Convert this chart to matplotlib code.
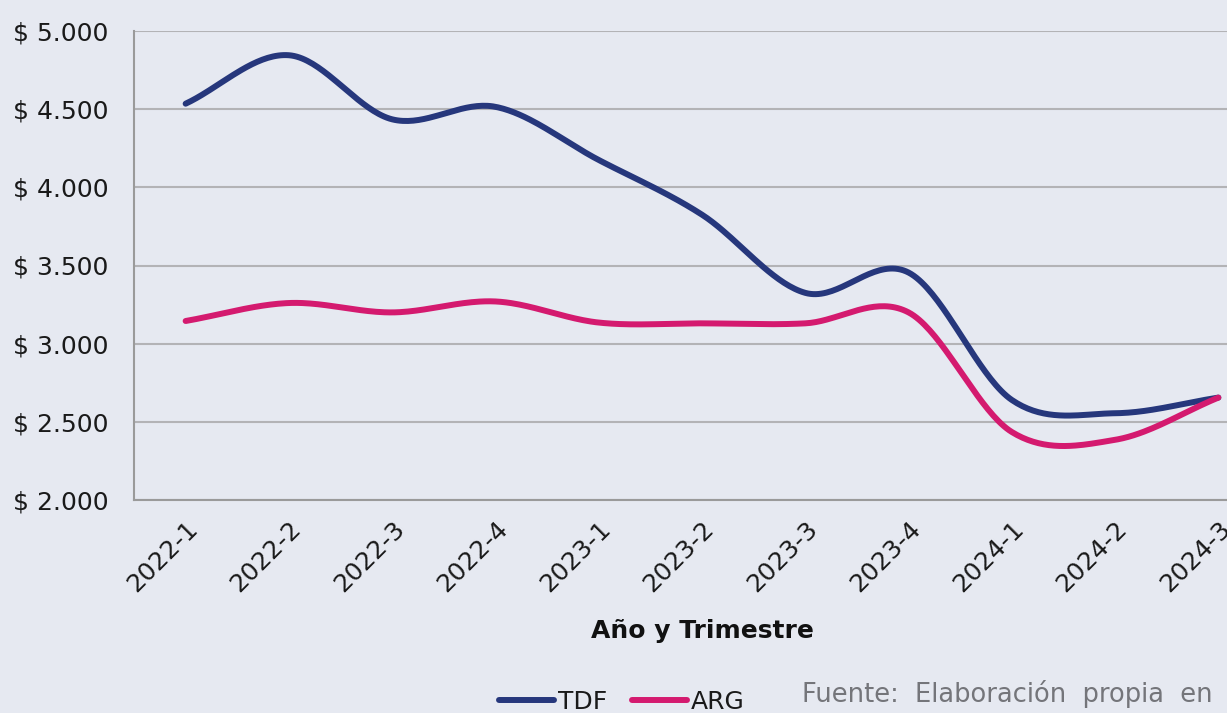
import numpy as np
import matplotlib.pyplot as plt
from matplotlib.lines import Line2D

# --- Data ---
periodos = ['2022-1', '2022-2', '2022-3', '2022-4', '2023-1', '2023-2',
            '2023-3', '2023-4', '2024-1', '2024-2', '2024-3']
tdf = [4535, 4845, 4435, 4515, 4175, 3825, 3325, 3455, 2640, 2555, 2655]
arg = [3145, 3260, 3200, 3270, 3135, 3130, 3130, 3200, 2435, 2385, 2655]

BG = '#e6e9f1'
C_TDF = '#26377c'
C_ARG = '#d41a6f'
TXT = '#1a1a1a'


def smooth(y, n=40):
    """Catmull-Rom curve through the points, like Excel's smoothed line."""
    x = np.arange(len(y), dtype=float)
    y = np.asarray(y, dtype=float)
    px = np.concatenate([[2 * x[0] - x[1]], x, [2 * x[-1] - x[-2]]])
    py = np.concatenate([[2 * y[0] - y[1]], y, [2 * y[-1] - y[-2]]])
    xs, ys = [], []
    t = np.linspace(0, 1, n)
    for i in range(1, len(px) - 2):
        for arr, out in ((px, xs), (py, ys)):
            p0, p1, p2, p3 = arr[i - 1], arr[i], arr[i + 1], arr[i + 2]
            out.extend(0.5 * ((2 * p1) + (-p0 + p2) * t
                              + (2 * p0 - 5 * p1 + 4 * p2 - p3) * t ** 2
                              + (-p0 + 3 * p1 - 3 * p2 + p3) * t ** 3))
    return np.array(xs), np.array(ys)


plt.rcParams['font.family'] = ['DejaVu Sans']

fig = plt.figure(figsize=(12.27, 7.13), dpi=100, facecolor=BG)
# plot area runs past the right edge of the picture, as in the reference
ax = fig.add_axes([134 / 1227, 1 - 500 / 713, 1136 / 1227, 469 / 713])
ax.set_facecolor(BG)

for serie, col in ((tdf, C_TDF), (arg, C_ARG)):
    sx, sy = smooth(serie)
    ax.plot(sx, sy, color=col, lw=4.3, solid_capstyle='round', clip_on=False)

ax.set_xlim(-0.5, len(periodos) - 0.5)
ax.set_ylim(2000, 5000)
ax.set_yticks(range(2000, 5001, 500))
ax.set_yticklabels([f'$ {v:,}'.replace(',', '.') for v in range(2000, 5001, 500)],
                   fontsize=18, color=TXT)
ax.set_xticks(range(len(periodos)))
ax.set_xticklabels(periodos, rotation=45, ha='right', rotation_mode='anchor',
                   fontsize=18, color=TXT)
ax.tick_params(length=0)
ax.tick_params(axis='y', pad=18.5)
ax.tick_params(axis='x', pad=12)

ax.grid(axis='y', color='#b3b3b6', lw=1.5)
ax.set_axisbelow(True)
for s in ('top', 'right'):
    ax.spines[s].set_visible(False)
for s in ('left', 'bottom'):
    ax.spines[s].set_color('#9a9a9a')
    ax.spines[s].set_linewidth(1.5)

fig.text(702 / 1227, 1 - 631 / 713, 'Año y Trimestre', ha='center', va='center',
         fontsize=18, fontweight='bold', color='#111111')

handles = [Line2D([], [], color=C_TDF, lw=4.3, solid_capstyle='round'),
           Line2D([], [], color=C_ARG, lw=4.3, solid_capstyle='round')]
leg = fig.legend(handles, ['TDF', 'ARG'], loc='center',
                 bbox_to_anchor=(622 / 1227, 1 - 702 / 713),
                 ncol=2, frameon=False, fontsize=18, handlelength=2.2,
                 handletextpad=0.15, columnspacing=1.0, borderaxespad=0)
for t in leg.get_texts():
    t.set_color(TXT)

fig.text(802 / 1227, 1 - 694 / 713, 'Fuente:  Elaboración  propia  en', ha='left',
         va='center', fontsize=18.5, color='#74757a')

fig.savefig('out.png', dpi=100, facecolor=BG)
